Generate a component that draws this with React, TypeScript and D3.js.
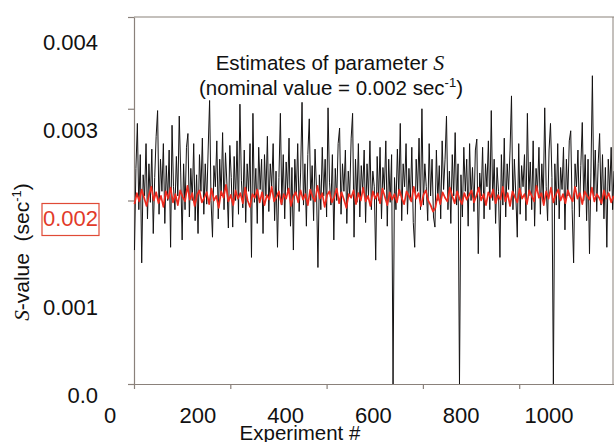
import { useEffect, useRef } from "react";
import * as d3 from "d3";

// black series: every 3rd experiment, values in units of 1e-5 sec^-1
const estimateExperiments = d3.range(333).map((k) => 1 + 3 * k);
const estimates = [
  146, 235, 284, 190, 250, 132, 228, 205, 262, 180,
  240, 198, 256, 164, 225, 270, 298, 185, 245, 210,
  262, 175, 238, 200, 255, 149, 282, 215, 190, 248,
  205, 292, 230, 157, 240, 190, 258, 273, 182, 235,
  200, 262, 178, 228, 164, 250, 210, 268, 185, 240,
  196, 255, 309, 200, 160, 238, 215, 265, 180, 245,
  205, 274, 190, 252, 218, 170, 260, 225, 171, 248,
  200, 265, 185, 305, 222, 192, 255, 176, 240, 210,
  262, 138, 295, 198, 235, 175, 258, 212, 245, 164,
  250, 205, 270, 188, 240, 215, 262, 178, 232, 149,
  225, 295, 195, 250, 180, 242, 210, 268, 172, 236,
  146, 245, 205, 262, 188, 230, 307, 195, 240, 172,
  250, 289, 200, 238, 178, 256, 212, 127, 228, 190,
  258, 205, 245, 182, 301, 220, 195, 250, 157, 235,
  200, 262, 279, 185, 240, 210, 255, 175, 232, 205,
  268, 295, 160, 245, 198, 262, 182, 238, 210, 255,
  176, 240, 205, 265, 190, 232, 215, 135, 248, 200,
  258, 180, 236, 212, 265, 172, 245, 198, 250, 0,
  225, 190, 256, 205, 284, 178, 240, 215, 262, 185,
  235, 200, 258, 176, 149, 245, 210, 268, 190, 300,
  195, 240, 215, 178, 262, 205, 245, 182, 171, 255,
  200, 238, 180, 265, 212, 245, 292, 190, 232, 175,
  250, 205, 274, 195, 240, 0, 228, 182, 258, 210,
  245, 172, 262, 200, 236, 188, 255, 267, 142, 230,
  205, 258, 180, 240, 215, 265, 190, 298, 200, 245,
  175, 236, 210, 138, 250, 195, 268, 182, 240, 212,
  255, 314, 190, 245, 205, 160, 262, 185, 238, 215,
  250, 178, 295, 205, 242, 190, 265, 172, 235, 210,
  258, 185, 240, 200, 301, 215, 178, 255, 284, 225,
  0, 240, 195, 262, 180, 236, 212, 258, 168, 245,
  205, 265, 276, 190, 132, 240, 215, 255, 182, 238,
  285, 200, 250, 178, 245, 142, 230, 336, 205, 255,
  188, 240, 273, 195, 250, 180, 236, 149, 245, 210,
  258, 190, 232,
];

// red series: every 5th experiment, same units
const smoothedExperiments = d3.range(200).map((k) => 1 + 5 * k);
const smoothed = [
  196, 208, 199, 212, 203, 194, 206, 215, 200, 209,
  197, 205, 193, 210, 202, 214, 198, 207, 195, 211,
  204, 199, 216, 201, 208, 194, 206, 211, 198, 203,
  209, 196, 213, 200, 205, 192, 210, 203, 217, 199,
  206, 195, 211, 202, 208, 197, 214, 200, 193, 207,
  203, 212, 198, 209, 195, 206, 201, 215, 199, 204,
  210, 196, 207, 202, 213, 194, 205, 209, 198, 211,
  201, 207, 195, 212, 204, 199, 216, 202, 208, 193,
  206, 210, 198, 204, 213, 197, 209, 201, 192, 207,
  203, 211, 196, 208, 200, 214, 199, 205, 194, 210,
  202, 208, 197, 213, 204, 195, 209, 201, 207, 198,
  212, 203, 196, 210, 205, 199, 215, 202, 208, 194,
  206, 211, 200, 195, 188, 192, 207, 196, 209, 203,
  199, 214, 205, 197, 210, 202, 196, 208, 201, 206,
  211, 198, 205, 214, 200, 207, 195, 209, 203, 212,
  197, 206, 201, 215, 199, 208, 194, 210, 204, 198,
  213, 202, 207, 196, 211, 205, 199, 216, 203, 208,
  195, 210, 202, 214, 198, 206, 212, 200, 207, 197,
  211, 204, 199, 215, 202, 208, 196, 210, 205, 201,
  214, 199, 207, 203, 197, 211, 202, 208, 198, 205,
];

const UNIT = 1e-5;

const yTickMarks = [0, 0.002, 0.003, 0.004];
const yTickValues = [0, 0.001, 0.002, 0.003, 0.004];
const yTickLabels = ["0.0", "0.001", "0.002", "0.003", "0.004"];
const xTickValues = [0, 200, 400, 600, 800, 1000];
const xTickLabels = ["0", "200", "400", "600", "800", "1000"];

const SANS = "'Liberation Sans', Arial, sans-serif";
const SERIF = "'Liberation Serif', 'Times New Roman', serif";
const AXIS = "#8a817b";

export default function App() {
  const svgRef = useRef<SVGSVGElement>(null);

  useEffect(() => {
    const svg = d3.select(svgRef.current);
    svg.selectAll("*").remove();

    const x = d3.scaleLinear().domain([0, 1000]).range([134, 615.5]);
    const y = d3.scaleLinear().domain([0, 0.004]).range([384, 17]);
    // the tick labels in the figure sit on their own (shifted) grid
    const xLabel = d3.scaleLinear().domain([0, 1000]).range([110, 549]);
    const yLabel = d3.scaleLinear().domain([0, 0.004]).range([395, 42]);

    // frame
    svg.append("line").attr("x1", 134).attr("x2", 614).attr("y1", 17).attr("y2", 17)
      .attr("stroke", AXIS).attr("stroke-width", 1.2);
    svg.append("line").attr("x1", 613).attr("x2", 613).attr("y1", 17).attr("y2", 384)
      .attr("stroke", AXIS).attr("stroke-width", 1);

    const yAxis = d3.axisLeft(y).tickValues(yTickMarks).tickSize(6).tickSizeOuter(0).tickFormat(() => "");
    svg.append("g").attr("transform", "translate(134,0)").call(yAxis).call((g) => {
      g.selectAll("path, line").attr("stroke", AXIS).attr("stroke-width", 1.2);
    });

    const xAxis = d3.axisBottom(x).tickValues(xTickValues).tickSize(5).tickSizeOuter(0).tickFormat(() => "");
    svg.append("g").attr("transform", "translate(0,384)").call(xAxis).call((g) => {
      g.selectAll("path, line").attr("stroke", AXIS).attr("stroke-width", 1.2);
    });

    // series
    const blackLine = d3.line<number>()
      .x((_, i) => x(estimateExperiments[i]))
      .y((v) => y(v * UNIT));
    const redLine = d3.line<number>()
      .x((_, i) => x(smoothedExperiments[i]))
      .y((v) => y(v * UNIT));

    svg.append("path").datum(estimates).attr("d", blackLine)
      .attr("fill", "none").attr("stroke", "#141212").attr("stroke-width", 1)
      .attr("stroke-linejoin", "round");

    svg.append("path").datum(smoothed).attr("d", redLine)
      .attr("fill", "none").attr("stroke", "#ee2a1e").attr("stroke-width", 1.7)
      .attr("stroke-linejoin", "round");

    // y tick labels
    svg.append("g").selectAll("text").data(yTickValues).join("text")
      .attr("x", 98).attr("y", (d) => yLabel(d)).attr("dy", "0.36em")
      .attr("text-anchor", "end")
      .attr("font-family", SANS).attr("font-size", 22)
      .attr("fill", (d) => (d === 0.002 ? "#e23a2a" : "#111"))
      .text((_, i) => yTickLabels[i]);

    svg.append("rect")
      .attr("x", 42).attr("y", yLabel(0.002) - 15).attr("width", 57).attr("height", 32)
      .attr("fill", "none").attr("stroke", "#e04a36").attr("stroke-width", 1.2);

    // x tick labels
    svg.append("g").selectAll("text").data(xTickValues).join("text")
      .attr("x", (d) => xLabel(d)).attr("y", 423)
      .attr("text-anchor", "middle")
      .attr("font-family", SANS).attr("font-size", 22).attr("fill", "#111")
      .text((_, i) => xTickLabels[i]);

    svg.append("text").attr("x", 300).attr("y", 440).attr("text-anchor", "middle")
      .attr("font-family", SANS).attr("font-size", 20.5).attr("fill", "#111")
      .text("Experiment #");

    // y title
    const yt = svg.append("text")
      .attr("transform", "translate(29,252) rotate(-90)")
      .attr("text-anchor", "middle")
      .attr("font-family", SANS).attr("font-size", 21).attr("fill", "#111")
      .style("white-space", "pre");
    yt.append("tspan").attr("font-family", SERIF).attr("font-style", "italic").text("S");
    yt.append("tspan").text("-value  (sec");
    yt.append("tspan").attr("font-size", 13).attr("dy", -8).text("-1");
    yt.append("tspan").attr("dy", 8).text(")");

    // title
    const t1 = svg.append("text").attr("x", 330).attr("y", 70).attr("text-anchor", "middle")
      .attr("font-family", SANS).attr("font-size", 20.5).attr("fill", "#111")
      .style("white-space", "pre");
    t1.append("tspan").text("Estimates of parameter ");
    t1.append("tspan").attr("font-family", SERIF).attr("font-style", "italic").attr("font-size", 22).text("S");

    const t2 = svg.append("text").attr("x", 331).attr("y", 95).attr("text-anchor", "middle")
      .attr("font-family", SANS).attr("font-size", 20.5).attr("fill", "#111");
    t2.append("tspan").text("(nominal value = 0.002 sec");
    t2.append("tspan").attr("font-size", 13).attr("dy", -8).text("-1");
    t2.append("tspan").attr("dy", 8).text(")");
  }, []);

  return (
    <svg
      ref={svgRef}
      width={614}
      height={442}
      style={{ position: "absolute", left: 0, top: 0, background: "#fff" }}
    />
  );
}
